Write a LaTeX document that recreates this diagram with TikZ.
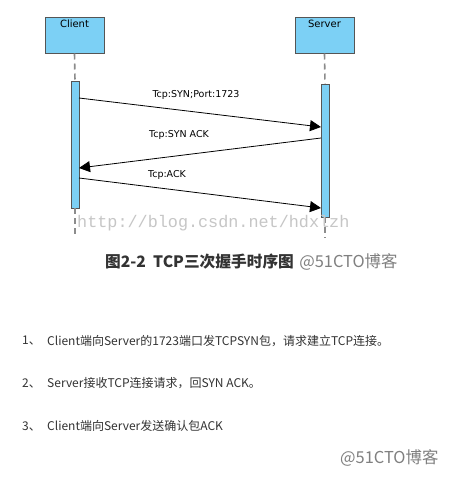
\documentclass[tikz,border=0pt]{standalone}
\usepackage{fontspec}
\setmainfont{DejaVu Sans}
\newfontfamily\cjk{Noto Sans CJK SC}
\newfontfamily\wmfont{Liberation Mono}
\usetikzlibrary{arrows.meta}
\definecolor{boxblue}{HTML}{7CD0F5}
\definecolor{boxline}{HTML}{555555}
\definecolor{txtgray}{HTML}{333333}
\tikzset{
  actor/.style={draw=boxline, line width=1pt, fill=boxblue, minimum width=59pt, minimum height=36pt, inner sep=0pt},
  actbar/.style={draw=boxline, line width=0.8pt, fill=boxblue, minimum width=8pt, inner sep=0pt},
  lifeline/.style={draw=gray!90, line width=1.6pt, dash pattern=on 6pt off 4pt},
  msg/.style={draw=black, line width=0.8pt, -{Triangle[length=11pt,width=11pt]}},
  msglabel/.style={font=\fontsize{9.5}{11}\selectfont, inner sep=0pt},
  listtxt/.style={font=\cjk\fontsize{12}{14}\selectfont, text=txtgray, anchor=west, inner sep=0pt},
  wmtxt/.style={font=\cjk\fontsize{16.4}{18}\selectfont, text=gray, anchor=west, inner sep=0pt}
}
\begin{document}
\begin{tikzpicture}[x=1pt,y=-1pt]
\useasboundingbox (0,0) rectangle (455,482);
\fill[white] (0,0) rectangle (455,482);
% actors
\node[actor] (client) at (74.5,35) {};
\node[font=\fontsize{10}{12}\selectfont, anchor=north, inner sep=0pt] (clientlbl) at (74.5,19.5) {Client};
\node[actor] (server) at (324.5,35) {};
\node[font=\fontsize{10}{12}\selectfont, anchor=north, inner sep=0pt] (serverlbl) at (324.5,19.5) {Server};
% activation bars
\node[actbar, minimum height=127pt] (cbar) at (75,144.5) {};
\node[actbar, minimum height=133pt] (sbar) at (325,150.5) {};
% lifelines
\coordinate (cend) at (75,238);
\coordinate (send) at (325,238);
\draw[lifeline] (client.south) -- (cbar.north);
\draw[lifeline] (cbar.south) -- (cend);
\draw[lifeline] (server.south) -- (sbar.north);
\draw[lifeline] (sbar.south) -- (send);
% messages
\coordinate (m1s) at (79,98);
\coordinate (m1e) at (321,127);
\coordinate (m2s) at (321,138);
\coordinate (m2e) at (79,168);
\coordinate (m3s) at (79,178);
\coordinate (m3e) at (321,208);
\draw[msg] (m1s) -- (m1e);
\draw[msg] (m2s) -- (m2e);
\draw[msg] (m3s) -- (m3e);
\node[msglabel] (l1) at (196,95) {Tcp:SYN;Port:1723};
\node[msglabel] (l2) at (179,135) {Tcp:SYN ACK};
\node[msglabel] (l3) at (167,175) {Tcp:ACK};
% watermark
\node[font=\wmfont\fontsize{16.8}{18}\selectfont, text=gray!45, anchor=west, inner sep=0pt] (wm) at (77,223) {http://blog.csdn.net/hdxlzh};
% caption
\node[font=\cjk\bfseries\fontsize{15.7}{17}\selectfont, text=txtgray, anchor=west, inner sep=0pt] (cap) at (105,262) {图2-2\ \ TCP三次握手时序图};
\node[wmtxt] (capwm) at ([xshift=5pt]cap.east) {@51CTO博客};
% list
\node[listtxt] (n1) at (22,341) {1、};
\node[listtxt] (t1) at (47,341) {Client端向Server的1723端口发TCPSYN包，请求建立TCP连接。};
\node[listtxt] (n2) at (22,383) {2、};
\node[listtxt] (t2) at (47,383) {Server接收TCP连接请求，回SYN ACK。};
\node[listtxt] (n3) at (22,426) {3、};
\node[listtxt] (t3) at (47,426) {Client端向Server发送确认包ACK};
\node[wmtxt] (wm2) at (340,458) {@51CTO博客};
\end{tikzpicture}
\end{document}
